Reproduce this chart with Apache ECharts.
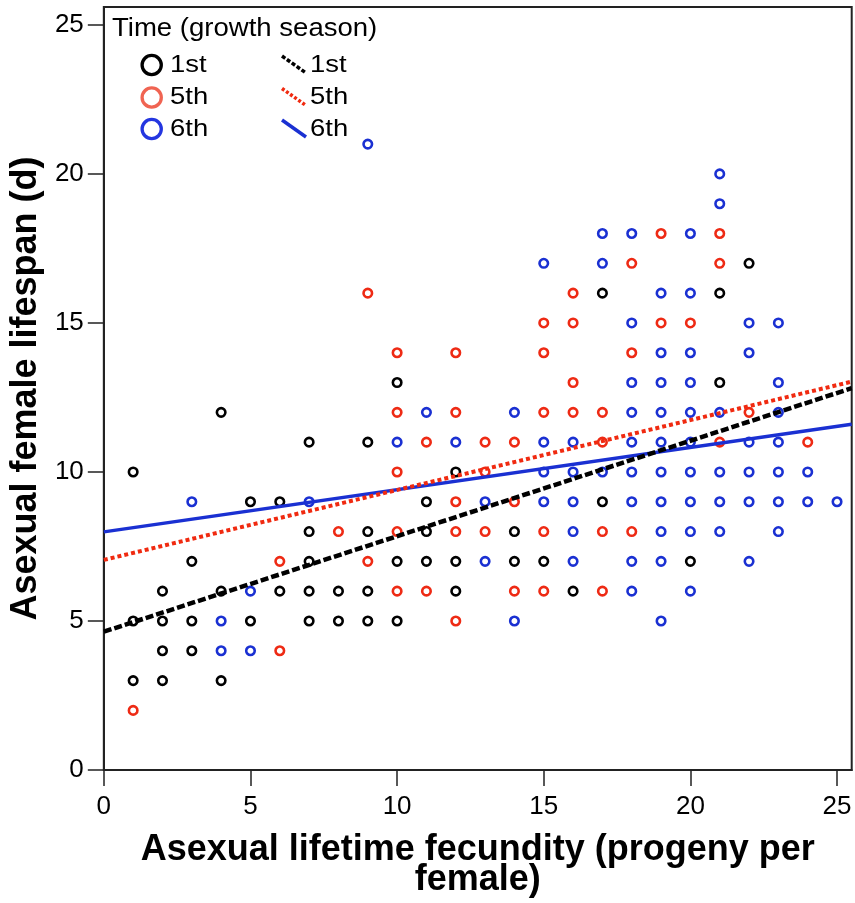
<!DOCTYPE html>
<html><head><meta charset="utf-8">
<script src="https://cdn.jsdelivr.net/npm/echarts@6/dist/echarts.min.js"></script>
<style>html,body{margin:0;padding:0;background:#fff}#c{width:855px;height:903px}</style>
</head><body><div id="c"></div>
<script>
// ---- data ----
const seasons = ['1st', '5th', '6th'];
const legendTitle = 'Time (growth season)';
const xName = 'Asexual lifetime fecundity (progeny per\nfemale)';
const yName = 'Asexual female lifespan (d)';
const xTicks = [0, 5, 10, 15, 20, 25];
const yTicks = [0, 5, 10, 15, 20, 25];

// [fecundity, lifespan]
const points1st = [
  [1,10],[1,5],[1,3],
  [2,6],[2,5],[2,4],[2,3],
  [3,7],[3,5],[3,4],
  [4,12],[4,6],[4,3],
  [5,9],[5,5],
  [6,9],[6,6],
  [7,11],[7,8],[7,7],[7,6],[7,5],
  [8,6],[8,5],
  [9,11],[9,8],[9,6],[9,5],
  [10,13],[10,7],[10,5],
  [11,9],[11,8],[11,7],
  [12,10],[12,7],[12,6],
  [14,8],[14,7],
  [15,7],
  [16,6],
  [17,16],[17,9],
  [20,7],
  [21,16],[21,13],
  [22,17]
];
const points5th = [
  [1,2],
  [6,7],[6,4],
  [8,8],
  [9,16],[9,7],
  [10,14],[10,12],[10,10],[10,8],[10,6],
  [11,11],[11,6],
  [12,14],[12,12],[12,9],[12,8],[12,5],
  [13,11],[13,10],[13,8],
  [14,11],[14,9],[14,6],
  [15,15],[15,14],[15,12],[15,8],[15,6],
  [16,16],[16,15],[16,13],[16,12],
  [17,12],[17,11],[17,8],[17,6],
  [18,17],[18,14],[18,8],
  [19,18],[19,15],
  [20,15],
  [21,18],[21,17],[21,11],
  [22,12],
  [24,11]
];
const points6th = [
  [3,9],
  [4,5],[4,4],
  [5,6],[5,4],
  [7,9],
  [9,21],
  [10,11],
  [11,12],
  [12,11],
  [13,9],[13,7],
  [14,12],[14,5],
  [15,17],[15,11],[15,10],[15,9],
  [16,11],[16,10],[16,9],[16,8],[16,7],
  [17,18],[17,17],[17,10],
  [18,18],[18,15],[18,13],[18,12],[18,11],[18,10],[18,9],[18,7],[18,6],
  [19,16],[19,14],[19,13],[19,12],[19,11],[19,10],[19,9],[19,8],[19,7],[19,5],
  [20,18],[20,16],[20,14],[20,13],[20,12],[20,11],[20,10],[20,9],[20,8],[20,6],
  [21,20],[21,19],[21,12],[21,10],[21,9],[21,8],
  [22,15],[22,14],[22,11],[22,10],[22,9],[22,7],
  [23,15],[23,13],[23,12],[23,11],[23,10],[23,9],[23,8],
  [24,10],[24,9],
  [25,9]
];
// fitted lines: lifespan at fitX[0] and fitX[1]
const fitX = [0, 25.5];
const fit1st = [4.64, 12.81];
const fit5th = [7.05, 13.03];
const fit6th = [7.99, 11.6];

// ---- styling ----
const FONT = "'Liberation Sans', Arial, Helvetica, sans-serif";
const pointColors = ['#000000', '#ee2a14', '#1a30d2'];
const legendCircleColors = ['#000000', '#f06452', '#2436e0'];
const lineStyles = [
  {color: '#000000', width: 4.5, type: [8, 3]},
  {color: '#f02a10', width: 4, type: [4, 3]},
  {color: '#1a30d2', width: 3.5, type: 'solid'}
];

const pointSets = [points1st, points5th, points6th];
const fitSets = [fit1st, fit5th, fit6th];

const series = [];
pointSets.forEach((pts, i) => {
  series.push({
    name: seasons[i], type: 'scatter', data: pts, symbol: 'circle', symbolSize: 8.5,
    itemStyle: {color: 'rgba(255,255,255,0)', borderColor: pointColors[i], borderWidth: 2.6, opacity: 1},
    z: 2, silent: true
  });
});
fitSets.forEach((f, i) => {
  series.push({
    name: seasons[i] + ' fit', type: 'line', data: [[fitX[0], f[0]], [fitX[1], f[1]]],
    showSymbol: false, symbol: 'none',
    lineStyle: Object.assign({opacity: 1}, lineStyles[i]), z: 3 + (2 - i), silent: true
  });
});

// legend built as graphics
const rowY = [65, 97.5, 129];
const graphics = [{
  type: 'text', x: 112, y: 29, scaleX: 1.08,
  style: {text: legendTitle, font: '25.5px ' + FONT, fill: '#000', verticalAlign: 'middle', align: 'left'}
}];
seasons.forEach((s, i) => {
  graphics.push({type: 'circle', shape: {cx: 151.7, cy: rowY[i], r: 9.6},
    style: {fill: 'none', stroke: legendCircleColors[i], lineWidth: 3.3}});
  graphics.push({type: 'text', x: 170, y: rowY[i], scaleX: 1.12,
    style: {text: s, font: '24.5px ' + FONT, fill: '#000', verticalAlign: 'middle', align: 'left'}});
  const ls = lineStyles[i];
  graphics.push({type: 'line', shape: {x1: 282, y1: rowY[i] - 9, x2: 306, y2: rowY[i] + 8},
    style: {stroke: ls.color, lineWidth: 3.5, lineDash: ls.type === 'solid' ? null : (i === 0 ? [4, 2] : [3, 2])}});
  graphics.push({type: 'text', x: 310, y: rowY[i], scaleX: 1.12,
    style: {text: s, font: '24.5px ' + FONT, fill: '#000', verticalAlign: 'middle', align: 'left'}});
});

const axisCommon = {
  type: 'value',
  axisLine: {show: true, onZero: false, lineStyle: {color: '#222', width: 2}},
  axisTick: {show: true, inside: false, length: 16, lineStyle: {color: '#222', width: 1.5}},
  splitLine: {show: false},
  axisLabel: {color: '#000', fontSize: 26, fontFamily: FONT, margin: 20},
  nameLocation: 'middle',
  nameTextStyle: {color: '#000', fontSize: 36, fontWeight: 'bold', fontFamily: FONT}
};

const chart = echarts.init(document.getElementById('c'), null, {renderer: 'canvas'});
chart.setOption({
  animation: false,
  backgroundColor: '#fff',
  grid: {left: 101.7, right: 3.3, top: 7, bottom: 133, show: true, borderColor: '#222', borderWidth: 2, containLabel: false},
  xAxis: Object.assign({}, axisCommon, {
    min: 0, max: 25.5, interval: 5,
    axisTick: Object.assign({}, axisCommon.axisTick, {customValues: xTicks}),
    axisLabel: Object.assign({}, axisCommon.axisLabel, {customValues: xTicks, margin: 24}),
    name: xName, nameGap: 65,
    nameTextStyle: Object.assign({}, axisCommon.nameTextStyle, {lineHeight: 30})
  }),
  yAxis: Object.assign({}, axisCommon, {
    min: 0, max: 25.6, interval: 5,
    axisTick: Object.assign({}, axisCommon.axisTick, {customValues: yTicks}),
    axisLabel: Object.assign({}, axisCommon.axisLabel, {customValues: yTicks}),
    name: yName, nameGap: 40
  }),
  graphic: graphics,
  series: series
});
</script>
</body></html>
